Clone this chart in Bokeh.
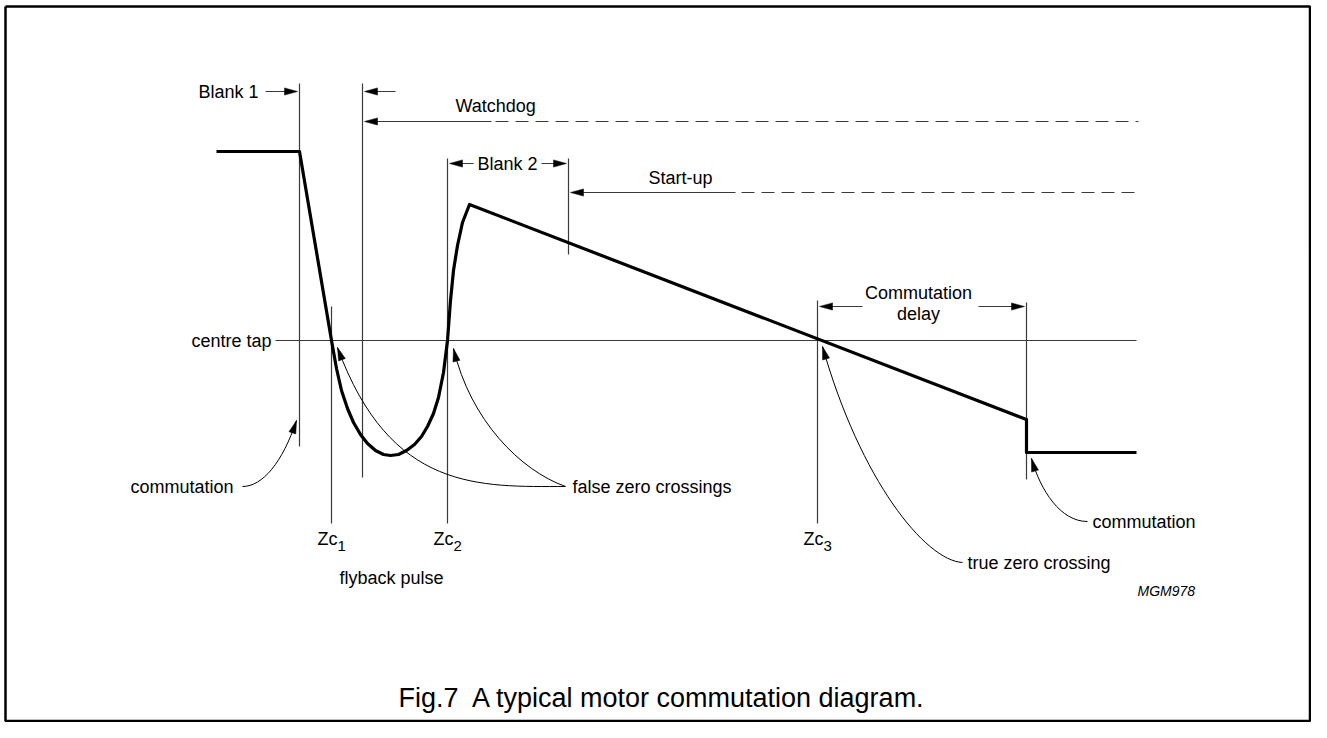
import math
from bokeh.plotting import figure
from bokeh.models import Range1d, ColumnDataSource
from bokeh.core.properties import value
from bokeh.embed import file_html
from bokeh.resources import INLINE

# ---------------- data (diagram coordinates, pixel-like units, y grows downward) -------------
wave_x = [216, 299, 331, 336, 341, 347, 353, 360, 367, 375, 383, 390, 398, 406, 414, 421,
          427, 433, 438, 443, 447, 450, 453, 457, 462, 469, 1026, 1026, 1136]
wave_y = [151, 151, 340, 368, 390, 408, 422, 434, 443, 450, 454, 455, 454, 450, 444, 436,
          426, 413, 397, 372, 340, 300, 270, 245, 222, 204, 419, 452, 452]

centre_tap_y = 340
centre_tap_x = [275, 1136]

vline_names = ["blank1", "watchdog", "zc1", "zc2", "blank2_end", "zc3", "commutation"]
vline_x = [299, 362, 331, 447, 568, 817, 1026]
vline_y0 = [83, 83, 306, 158, 158, 300, 302]
vline_y1 = [446, 477, 523, 523, 254, 523, 479]

# straight dimension arrows: (x_start, y_start, x_tip, y_tip)
arrow_x0 = [265, 395, 491, 473, 541, 735, 862, 978]
arrow_y0 = [91, 91, 121, 163, 163, 192, 306, 306]
arrow_x1 = [297, 364, 364, 449, 566, 570, 819, 1024]
arrow_y1 = [91, 91, 121, 163, 163, 192, 306, 306]

dash_x0 = [495, 741]
dash_x1 = [1138, 1138]
dash_y = [121, 192]

# curved leaders (cubic bezier): start, control 1, control 2, tip
lead_x0 = [242, 565, 565, 962, 1087]
lead_y0 = [486, 486, 486, 562, 521]
lead_cx0 = [262, 480, 520, 925, 1060]
lead_cy0 = [486, 486, 470, 560, 521]
lead_cx1 = [282, 390, 470, 860, 1040]
lead_cy1 = [462, 492, 420, 480, 490]
lead_x1 = [296, 337, 453, 822, 1031]
lead_y1 = [420, 347, 348, 346, 458]

labels = ["Blank 1", "Watchdog", "Blank 2", "Start-up", "centre tap", "Commutation", "delay",
          "commutation", "false zero crossings", "flyback pulse", "true zero crossing",
          "commutation"]
label_x = [198, 455, 477, 648, 271, 918, 918, 233, 572, 391, 967, 1092]
label_y = [91, 105, 163, 177, 340, 292, 313, 486, 486, 577, 562, 521]
label_align = ["left", "left", "left", "left", "right", "center", "center", "right", "left",
               "center", "left", "left"]

zc_subs = ["1", "2", "3"]
zc_x = [331, 447, 817]
zc_y = 538

caption = "Fig.7\u00a0 A typical motor commutation diagram."
code_label = "MGM978"

FONT = value("Liberation Sans")
INK = "#000000"
THIN = "#3a3a3a"

# ---------------- figure --------------------------------------------------------------------
W, H = 1311, 722
p = figure(width=W, height=H, output_backend="svg", toolbar_location=None,
           x_range=Range1d(0, W), y_range=Range1d(H, 0),
           min_border=0, tools="")
p.axis.visible = False
p.grid.visible = False
p.outline_line_color = None
p.background_fill_color = "white"
p.border_fill_color = "white"

# frame border
p.line([5, W - 1.5, W - 1.5, 5, 5], [6, 6, H - 1.5, H - 1.5, 6], line_color="black",
       line_width=2.5)

# centre tap line
p.line(centre_tap_x, [centre_tap_y, centre_tap_y], line_color=THIN, line_width=1.2)

# vertical guide lines
p.segment(x0=vline_x, y0=vline_y0, x1=vline_x, y1=vline_y1, line_color=THIN, line_width=1.2)

# dashed continuations
p.segment(x0=dash_x0, y0=dash_y, x1=dash_x1, y1=dash_y, line_color=THIN, line_width=1.2,
          line_dash="13 7")

# waveform
p.line(wave_x, wave_y, line_color=INK, line_width=3.2, line_join="round")


def head(tx, ty, dx, dy, length=13.0, half=3.6):
    n = math.hypot(dx, dy)
    ux, uy = dx / n, dy / n
    bx, by = tx - ux * length, ty - uy * length
    px, py = -uy, ux
    return [tx, bx + px * half, bx - px * half], [ty, by + py * half, by - py * half]


hx, hy = [], []
# straight arrows
for x0, y0, x1, y1 in zip(arrow_x0, arrow_y0, arrow_x1, arrow_y1):
    ux, uy = x1 - x0, y1 - y0
    n = math.hypot(ux, uy)
    p.segment(x0=[x0], y0=[y0], x1=[x1 - ux / n * 10], y1=[y1 - uy / n * 10],
              line_color=THIN, line_width=1.2)
    a, b = head(x1, y1, ux, uy)
    hx.append(a)
    hy.append(b)

# curved leaders
p.bezier(x0=lead_x0, y0=lead_y0, x1=lead_x1, y1=lead_y1, cx0=lead_cx0, cy0=lead_cy0,
         cx1=lead_cx1, cy1=lead_cy1, line_color=INK, line_width=1.0)
for cx1, cy1, x1, y1 in zip(lead_cx1, lead_cy1, lead_x1, lead_y1):
    a, b = head(x1, y1, x1 - cx1, y1 - cy1)
    hx.append(a)
    hy.append(b)

p.patches(hx, hy, fill_color=INK, line_color=INK, line_width=0.5)

# labels
src = ColumnDataSource(dict(x=label_x, y=label_y, t=labels, a=label_align))
p.text(x="x", y="y", text="t", text_align="a", source=src, text_baseline="middle",
       text_font=FONT, text_font_size="18px", text_color=INK)

# Zc labels with subscripts
p.text(x=[x - 14 for x in zc_x], y=[zc_y] * 3, text=["Zc"] * 3, text_baseline="middle",
       text_align="left", text_font=FONT, text_font_size="18px", text_color=INK)
p.text(x=[x + 6 for x in zc_x], y=[zc_y + 7] * 3, text=zc_subs, text_baseline="middle",
       text_align="left", text_font=FONT, text_font_size="15px", text_color=INK)

# drawing code
p.text(x=[1137], y=[590], text=[code_label], text_baseline="middle", text_align="left",
       text_font=FONT, text_font_size="14px", text_font_style="italic", text_color=INK)

# caption
p.text(x=[662], y=[697], text=[caption], text_baseline="middle", text_align="center",
       text_font=FONT, text_font_size="27px", text_color=INK)

open("out.html", "w").write(file_html(p, INLINE))
